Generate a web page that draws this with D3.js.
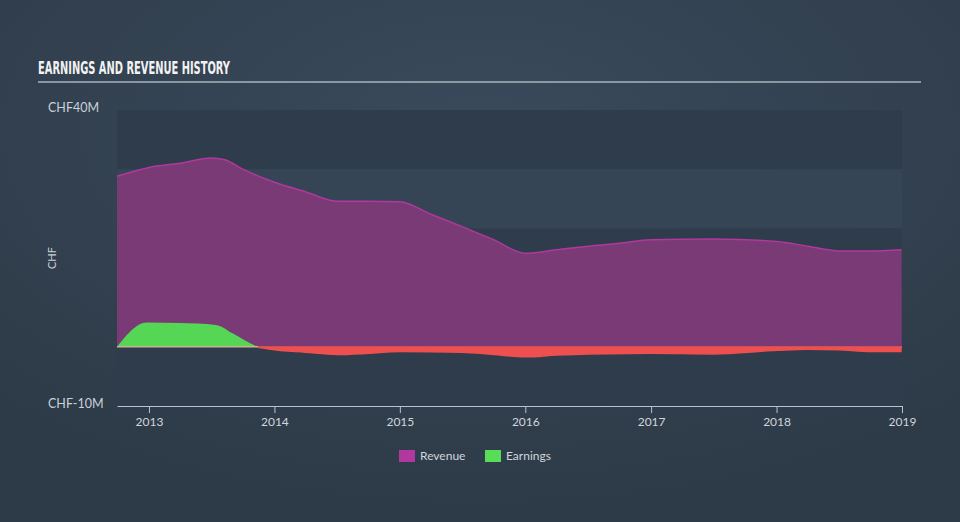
<!DOCTYPE html>
<html><head><meta charset="utf-8">
<script src="https://cdn.jsdelivr.net/npm/d3@7"></script>
<style>html,body{margin:0;padding:0;background:#334252;}svg{display:block;}</style>
</head><body>
<svg id="chart" width="960" height="522"></svg>
<script>
const revenueDates = ["2012-09-30","2013-01-01","2013-04-01","2013-07-01","2013-08-10","2013-10-01","2014-01-01","2014-04-01","2014-07-01","2014-10-01","2015-01-01","2015-04-01","2015-07-01","2015-10-01","2016-01-01","2016-04-01","2016-07-01","2016-10-01","2017-01-01","2017-07-01","2018-01-01","2018-04-01","2018-07-01","2018-10-01","2018-12-31"];
const revenueValues = [28.8,30.3,31.0,31.9,31.6,30.0,27.8,26.2,24.6,24.6,24.5,22.4,20.3,18.1,15.8,16.4,17.0,17.5,18.1,18.2,17.8,17.0,16.2,16.2,16.4];
const earningsDates = ["2012-09-30","2012-12-25","2013-04-01","2013-07-15","2013-09-01","2013-11-15","2014-01-01","2014-04-01","2014-07-01","2014-10-01","2015-01-01","2015-07-01","2015-10-01","2016-01-01","2016-04-01","2016-07-01","2017-01-01","2017-07-01","2018-01-01","2018-04-01","2018-07-01","2018-10-01","2018-12-31"];
const earningsValues = [0,4.1,4.0,3.7,2.3,0,-0.5,-0.9,-1.3,-1.1,-0.8,-0.9,-1.3,-1.7,-1.4,-1.2,-1.1,-1.2,-0.6,-0.4,-0.5,-0.8,-0.8];
const yTickValues = [40,30,20,10,0,-10];
const yTickLabels = ["CHF40M","","","","","CHF-10M"];
const xTickYears = [2013,2014,2015,2016,2017,2018,2019];
const legendNames = ["Revenue","Earnings"];
const legendColors = ["#b0389e","#57dd57"];

const parse = d3.timeParse("%Y-%m-%d");
const svg = d3.select("#chart");
const W = 960, H = 522;
const m = {left:117, right:58, top:110, bottom:116};

const defs = svg.append("defs");
const rg = defs.append("radialGradient").attr("id","bg").attr("cx","50%").attr("cy","25%").attr("r","75%");
rg.append("stop").attr("offset","0%").attr("stop-color","#3a4a5c");
rg.append("stop").attr("offset","100%").attr("stop-color","#2d3a47");
svg.append("rect").attr("width",W).attr("height",H).attr("fill","url(#bg)");

const x = d3.scaleTime().domain([parse("2012-09-30"), parse("2019-01-01")]).range([m.left, W - m.right]);
const y = d3.scaleLinear().domain([-10, 40]).range([H - m.bottom, m.top]);

// bands
const bandPairs = d3.pairs(yTickValues);
svg.append("g").selectAll("rect").data(bandPairs).join("rect")
  .attr("x", m.left).attr("width", x.range()[1] - m.left)
  .attr("y", d => y(d[0])).attr("height", d => y(d[1]) - y(d[0]))
  .attr("fill", (d,i) => i % 2 === 0 ? "#2f3c4b" : "#354556");

// title
svg.append("text").attr("x",38).attr("y",74).text("EARNINGS AND REVENUE HISTORY")
  .attr("font-family","'Liberation Sans Narrow','DejaVu Sans Condensed',sans-serif").attr("font-weight","bold")
  .attr("font-size",18).attr("fill","#f2f2f2").attr("textLength",192).attr("lengthAdjust","spacingAndGlyphs");
svg.append("line").attr("x1",38).attr("x2",921).attr("y1",82).attr("y2",82).attr("stroke","#a9b3bd").attr("stroke-width",1.5);

// revenue
const rev = revenueDates.map((d,i) => ({date: parse(d), v: revenueValues[i]}));
const earn = earningsDates.map((d,i) => ({date: parse(d), v: earningsValues[i]}));
const curve = d3.curveMonotoneX;
svg.append("path").datum(rev)
  .attr("d", d3.area().x(d => x(d.date)).y0(y(0)).y1(d => y(d.v)).curve(curve))
  .attr("fill","#7a3a75");
svg.append("path").datum(rev)
  .attr("d", d3.line().x(d => x(d.date)).y(d => y(d.v)).curve(curve))
  .attr("fill","none").attr("stroke","#b0389e").attr("stroke-width",1.5);

// earnings: clip positive / negative
defs.append("clipPath").attr("id","pos").append("rect").attr("x",0).attr("y",0).attr("width",W).attr("height",y(0));
defs.append("clipPath").attr("id","neg").append("rect").attr("x",0).attr("y",y(0)).attr("width",W).attr("height",H);
const earnArea = d3.area().x(d => x(d.date)).y0(y(0)).y1(d => y(d.v)).curve(curve);
svg.append("path").datum(earn).attr("d", earnArea).attr("fill","#55d655").attr("clip-path","url(#pos)");
svg.append("path").datum(earn).attr("d", earnArea).attr("fill","#ee4f50").attr("clip-path","url(#neg)");
svg.append("path").datum(earn)
  .attr("d", d3.line().x(d => x(d.date)).y(d => y(d.v)).curve(curve))
  .attr("fill","none").attr("stroke","#ee4f50").attr("stroke-width",1.5).attr("clip-path","url(#neg)");
// zero baseline under the positive earnings span
const posEnd = earn.find((d,i) => i > 0 && d.v === 0).date;
svg.append("line").attr("x1",x(earn[0].date)).attr("x2",x(posEnd)).attr("y1",y(0)).attr("y2",y(0))
  .attr("stroke","#c9b48e").attr("stroke-width",1.5);
svg.append("line").attr("x1",x(posEnd)).attr("x2",x.range()[1]).attr("y1",y(0)+0.5).attr("y2",y(0)+0.5)
  .attr("stroke","#ee4f50").attr("stroke-width",2);

// x axis
const xAxis = d3.axisBottom(x).tickValues(xTickYears.map(yr => new Date(yr,0,1))).tickFormat(d3.timeFormat("%Y")).tickSize(7).tickSizeOuter(0);
const gx = svg.append("g").attr("transform",`translate(0,${y(-10)})`).call(xAxis);
gx.select(".domain").attr("stroke","#b5c3d1");
gx.selectAll(".tick line").attr("stroke","#b5c3d1");
gx.selectAll(".tick text").attr("fill","#d0d6dc").attr("font-family","Lato, 'Open Sans', sans-serif").attr("font-size",12).attr("dy","0.85em");

// y labels
svg.append("g").selectAll("text").data(yTickValues.map((v,i) => ({v, t: yTickLabels[i]})).filter(d => d.t)).join("text")
  .attr("x",48).attr("y",d => y(d.v) + 2).text(d => d.t)
  .attr("fill","#c9d1da").attr("font-family","Lato, 'Open Sans', sans-serif").attr("font-size",12.5);
svg.append("text").attr("transform",`translate(56,258) rotate(-90)`).attr("text-anchor","middle").text("CHF")
  .attr("fill","#c9d1da").attr("font-family","Lato, 'Open Sans', sans-serif").attr("font-size",11);

// legend
const lg = svg.append("g");
const legendX = [399, 485];
legendNames.forEach((n,i) => {
  lg.append("rect").attr("x",legendX[i]).attr("y",450).attr("width",16).attr("height",12).attr("fill",legendColors[i]);
  lg.append("text").attr("x",legendX[i]+21).attr("y",460).text(n).attr("fill","#d0d6dc")
    .attr("font-family","Lato, 'Open Sans', sans-serif").attr("font-size",12);
});
</script>
</body></html>
